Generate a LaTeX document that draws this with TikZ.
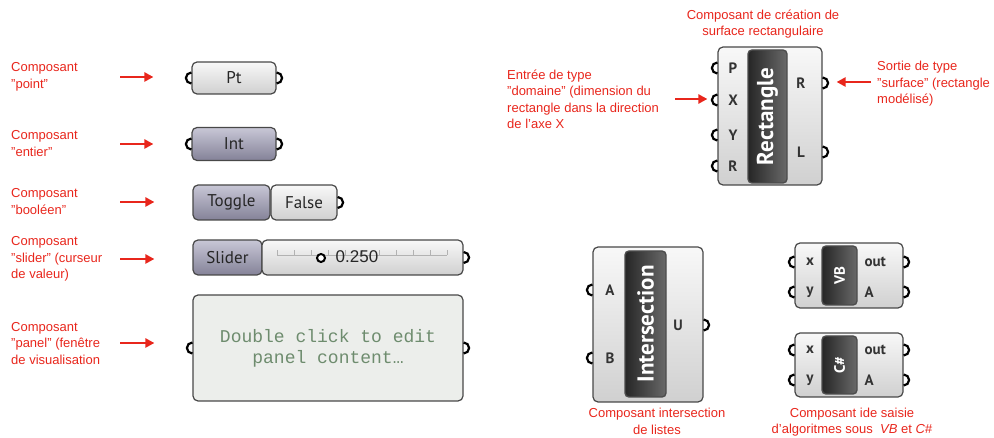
\documentclass[tikz,border=0pt]{standalone}
\usepackage{fontspec}
\setmainfont{Liberation Sans}
\newfontfamily\compfont{PT Sans}
\newfontfamily\panelfont{Liberation Mono}
\usetikzlibrary{arrows.meta}
\definecolor{annred}{RGB}{232,38,28}
\definecolor{boxline}{RGB}{72,72,72}
\definecolor{lighttop}{RGB}{248,248,248}
\definecolor{lightbot}{RGB}{208,208,208}
\definecolor{darktop}{RGB}{200,199,214}
\definecolor{darkbot}{RGB}{132,130,152}
\definecolor{bartop}{RGB}{105,105,105}
\definecolor{barbot}{RGB}{38,38,38}
\definecolor{panelbg}{RGB}{236,238,235}
\definecolor{paneltext}{RGB}{110,140,110}

\begin{document}
\begin{tikzpicture}[x=1pt,y=-1pt]
  \tikzstyle{note}=[text=annred,font=\fontsize{13}{16.5}\selectfont,align=left,inner sep=0pt]
  \tikzstyle{redarr}=[draw=annred,line width=2.6pt,-{Triangle[length=9pt,width=9pt]}]
  \tikzstyle{comp}=[draw=boxline,line width=1.2pt,rounded corners=5pt,top color=lighttop,bottom color=lightbot,font=\compfont\fontsize{17}{20}\selectfont,text=black!85]
  \tikzstyle{compdark}=[comp,top color=darktop,bottom color=darkbot]
  \tikzstyle{bar}=[draw=black!70,line width=1.4pt,rounded corners=4pt,left color=barbot,right color=bartop,text=white,font=\compfont\bfseries\fontsize{23}{23}\selectfont,rotate=90]
  \tikzstyle{smallbar}=[bar,font=\compfont\bfseries\fontsize{15}{15}\selectfont]
  \tikzstyle{pin}=[font=\compfont\bfseries\fontsize{15}{18}\selectfont,text=black!80]
  \tikzstyle{panel}=[draw=boxline,line width=1.2pt,rounded corners=5pt,fill=panelbg,font=\panelfont\fontsize{18}{21}\selectfont,text=paneltext,align=center]
  \tikzstyle{port}=[draw=black,line width=2.2pt]
  \useasboundingbox (0,0) rectangle (994,438);

  % parameter components, left column
  \node[comp,minimum width=84,minimum height=32] (pt) at (234,78) {Pt};
  \node[compdark,minimum width=84,minimum height=33] (int) at (234,144) {Int};
  \node[compdark,minimum width=77,minimum height=35] (togl) at (231.5,202.5) {Toggle};
  \node[comp,minimum width=66,minimum height=35] (tfalse) at (304,202.5) {False};
  \node[compdark,minimum width=69,minimum height=35] (sld) at (227.5,257.5) {Slider};
  \node[comp,minimum width=201,minimum height=35] (sldbar) at (362.5,257.5) {};
  \draw[black!30,line width=0.7pt] (277,255) -- (447,255);
  \foreach \t in {277,294,...,447}
    \draw[black!30,line width=0.7pt] (\t,255) -- (\t,250);
  \node[circle,draw=black,line width=2pt,fill=white,minimum size=8pt,inner sep=0pt] (grip) at (321,258) {};
  \node[font=\fontsize{17}{20}\selectfont,text=black!85] (val) at (357,257) {0.250};
  \node[panel,minimum width=270,minimum height=106] (pnl) at (328,348) {Double click to edit\\panel content…};

  % labels and arrows, left column
  \node[note,anchor=west] (lpt) at (11,77) {Composant\\"point"};
  \node[note,anchor=west] (lint) at (11,143.5) {Composant\\"entier"};
  \node[note,anchor=west] (lbool) at (11,201.5) {Composant\\"booléen"};
  \node[note,anchor=west] (lsld) at (11,259) {Composant\\"slider" (curseur\\de valeur)};
  \node[note,anchor=west] (lpnl) at (11,343.5) {Composant\\"panel" (fenêtre\\de visualisation};
  \foreach \n/\y in {pt/77,int/144,togl/202,sld/259,pnl/343} {
    \coordinate (t\n) at (120,\y);
    \draw[redarr,shorten >=38pt] (t\n) -- (t\n -| \n.west);
  }

  % rectangle component
  \node[comp,minimum width=104,minimum height=138] (rect) at (770,116) {};
  \node[bar,minimum width=133,minimum height=39] (rectbar) at (767.5,116.5) {Rectangle};
  \node[pin] (rP) at (733,68) {P};
  \node[pin] (rX) at (733,100) {X};
  \node[pin] (rY) at (733,135) {Y};
  \node[pin] (rR) at (733,166) {R};
  \node[pin] (rRo) at (801,83) {R};
  \node[pin] (rL) at (801,152) {L};
  \node[note,align=center] (lrect) at (763,24) {Composant de création de\\surface rectangulaire};
  \node[note,anchor=west] (ldom) at (507,99.5) {Entrée de type\\"domaine" (dimension du\\rectangle dans la direction\\de l'axe X};
  \node[note,anchor=west] (lsurf) at (877,84) {Sortie de type\\"surface" (rectangle\\modélisé)};
  \coordinate (tdom) at (675,99);
  \draw[redarr,shorten >=10pt] (tdom) -- (tdom -| rect.west);
  \coordinate (tsurf) at (871,82);
  \draw[redarr,shorten >=14pt] (tsurf) -- (tsurf -| rect.east);

  % intersection component
  \node[comp,minimum width=110,minimum height=155] (isect) at (648,324.5) {};
  \node[bar,minimum width=146,minimum height=41] (isectbar) at (645.5,324) {Intersection};
  \node[pin] (iA) at (610,290) {A};
  \node[pin] (iB) at (610,358) {B};
  \node[pin] (iU) at (678,325) {U};
  \node[note,align=center] (lisect) at (657,421.5) {Composant intersection\\de listes};

  % script components
  \node[comp,minimum width=108,minimum height=65] (vb) at (849,275.5) {};
  \node[smallbar,minimum width=59,minimum height=35] (vbbar) at (839.5,275.5) {VB};
  \node[pin] (vx) at (810,262) {x};
  \node[pin] (vy) at (810,292) {y};
  \node[pin,anchor=west] (vout) at (861,262) {out};
  \node[pin,anchor=west] (vA) at (861,292) {A};
  \node[comp,minimum width=108,minimum height=64] (cs) at (849,365) {};
  \node[smallbar,minimum width=58,minimum height=35] (csbar) at (839.5,365) {C\#};
  \node[pin] (cx) at (810,350) {x};
  \node[pin] (cy) at (810,380) {y};
  \node[pin,anchor=west] (cout) at (861,350) {out};
  \node[pin,anchor=west] (cA) at (861,380) {A};
  \node[note,align=center] (lscript) at (852,422) {Composant ide saisie\\d'algoritmes sous \ \textit{VB} et \textit{C\#}};

  % ports
  \foreach \p in {pt.west,int.west,pnl.west,rect.west |- rP,rect.west |- rX,rect.west |- rY,rect.west |- rR,
                  isect.west |- iA,isect.west |- iB,vb.west |- vx,vb.west |- vy,cs.west |- cx,cs.west |- cy}
    \draw[port] (\p) ++(0,-5.5) arc[start angle=90,end angle=270,radius=5.5pt];
  \foreach \p in {pt.east,int.east,tfalse.east,sldbar.east,pnl.east,rect.east |- rRo,rect.east |- rL,
                  isect.east |- iU,vb.east |- vout,vb.east |- vA,cs.east |- cout,cs.east |- cA}
    \draw[port] (\p) ++(0,-5.5) arc[start angle=90,end angle=-90,radius=5.5pt];
\end{tikzpicture}
\end{document}
